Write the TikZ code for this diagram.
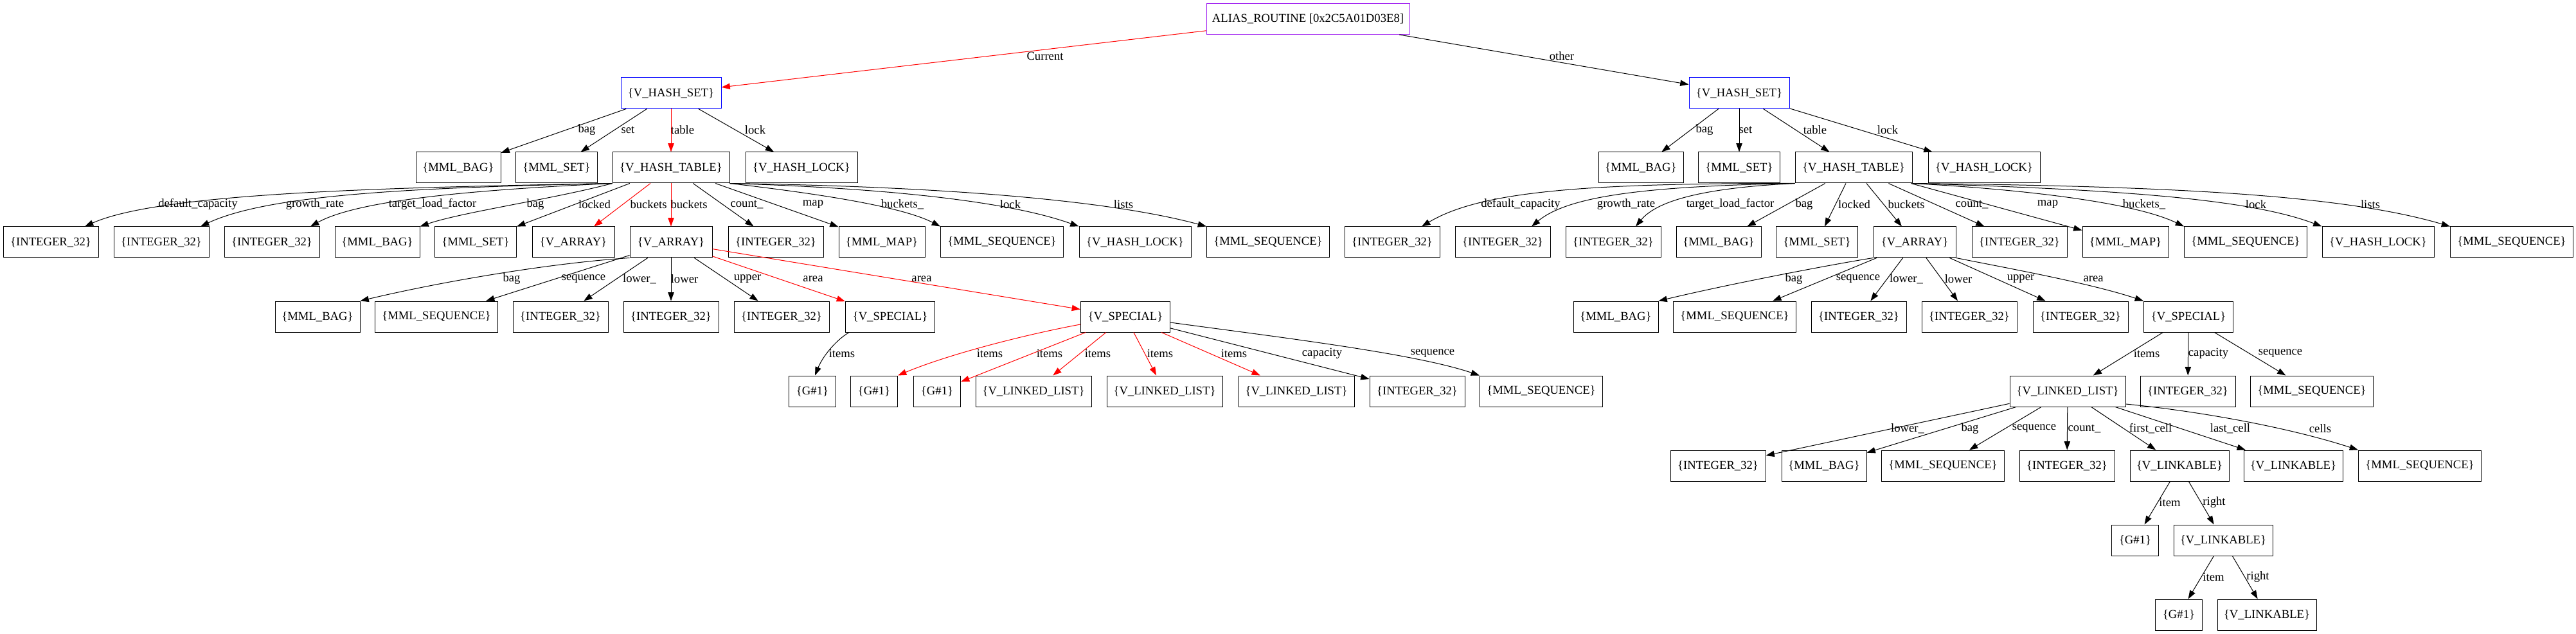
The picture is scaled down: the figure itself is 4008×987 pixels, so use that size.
\documentclass[tikz,border=0pt]{standalone}
\usepackage{fontspec}
\setmainfont{Liberation Serif}
\usetikzlibrary{arrows.meta,calc}
\definecolor{gvpurple}{RGB}{160,32,240}
\newcommand\gvfont{\fontsize{14pt}{16pt}\selectfont}
\newcommand\elab[3]{\node[lab] (#1) at (#2) {#3};}
\tikzset{
  box/.style={draw, line width=0.75pt, minimum height=36pt, inner sep=0pt, font=\gvfont},
  wint/.style={box, minimum width=111pt},
  wbag/.style={box, minimum width=99pt},
  wset/.style={box, minimum width=95.25pt},
  warr/.style={box, minimum width=96pt},
  wht/.style={box, minimum width=136.5pt},
  wlock/.style={box, minimum width=130.5pt},
  wmap/.style={box, minimum width=100.5pt},
  wseq/.style={box, minimum width=143.25pt},
  whs/.style={box, minimum width=117pt, draw=blue},
  wspec/.style={box, minimum width=104.25pt},
  wg/.style={box, minimum width=54.75pt},
  wll/.style={box, minimum width=135pt},
  wlk/.style={box, minimum width=115.5pt},
  edg/.style={line width=0.75pt, -{Triangle[length=10pt,width=7pt]}},
  edgr/.style={edg, red},
  lab/.style={font=\gvfont, inner sep=0pt},
}
\begin{document}
\begin{tikzpicture}[x=0.75pt,y=-0.75pt]
\useasboundingbox (0,0) rectangle (4008,987);
% ---- nodes ----
\node[box, draw=gvpurple, minimum width=237pt] (root) at (2035,29.5) {ALIAS\_ROUTINE [0x2C5A01D03E8]};
\node[whs] (hsA) at (1044,145) {\{V\_HASH\_SET\}};
\node[whs] (hsB) at (2706,145) {\{V\_HASH\_SET\}};
% row 2
\node[wbag] (bagA) at (713,261) {\{MML\_BAG\}};
\node[wset] (setA) at (866,261) {\{MML\_SET\}};
\node[wht] (htA) at (1044,261) {\{V\_HASH\_TABLE\}};
\node[wlock] (lockA) at (1247,261) {\{V\_HASH\_LOCK\}};
\node[wbag] (bagB) at (2553,261) {\{MML\_BAG\}};
\node[wset] (setB) at (2706,261) {\{MML\_SET\}};
\node[wht] (htB) at (2884,261) {\{V\_HASH\_TABLE\}};
\node[wlock] (lockB) at (3087,261) {\{V\_HASH\_LOCK\}};
% row 3
\node[wint] (tA1) at (79,377) {\{INTEGER\_32\}};
\node[wint] (tA2) at (251,377) {\{INTEGER\_32\}};
\node[wint] (tA3) at (423,377) {\{INTEGER\_32\}};
\node[wbag] (tA4) at (587,377) {\{MML\_BAG\}};
\node[wset] (tA5) at (740,377) {\{MML\_SET\}};
\node[warr] (tA6) at (892,377) {\{V\_ARRAY\}};
\node[warr] (tA7) at (1044,377) {\{V\_ARRAY\}};
\node[wint] (tA8) at (1207,377) {\{INTEGER\_32\}};
\node[wmap] (tA9) at (1372,377) {\{MML\_MAP\}};
\node[wseq] (tA10) at (1559,377) {\{MML\_SEQUENCE\}};
\node[wlock] (tA11) at (1766,377) {\{V\_HASH\_LOCK\}};
\node[wseq] (tA12) at (1973,377) {\{MML\_SEQUENCE\}};
\node[wint] (tB1) at (2166,377) {\{INTEGER\_32\}};
\node[wint] (tB2) at (2338,377) {\{INTEGER\_32\}};
\node[wint] (tB3) at (2510,377) {\{INTEGER\_32\}};
\node[wbag] (tB4) at (2674,377) {\{MML\_BAG\}};
\node[wset] (tB5) at (2827,377) {\{MML\_SET\}};
\node[warr] (tB6) at (2979,377) {\{V\_ARRAY\}};
\node[wint] (tB7) at (3142,377) {\{INTEGER\_32\}};
\node[wmap] (tB8) at (3307,377) {\{MML\_MAP\}};
\node[wseq] (tB9) at (3494,377) {\{MML\_SEQUENCE\}};
\node[wlock] (tB10) at (3700,377) {\{V\_HASH\_LOCK\}};
\node[wseq] (tB11) at (3908,377) {\{MML\_SEQUENCE\}};
% row 4
\node[wbag] (uA1) at (494,493) {\{MML\_BAG\}};
\node[wseq] (uA2) at (679,493) {\{MML\_SEQUENCE\}};
\node[wint] (uA3) at (872,493) {\{INTEGER\_32\}};
\node[wint] (uA4) at (1044,493) {\{INTEGER\_32\}};
\node[wint] (uA5) at (1216,493) {\{INTEGER\_32\}};
\node[wspec] (sA1) at (1385,493) {\{V\_SPECIAL\}};
\node[wspec] (sA2) at (1751,493) {\{V\_SPECIAL\}};
\node[wbag] (uB1) at (2514,493) {\{MML\_BAG\}};
\node[wseq] (uB2) at (2699,493) {\{MML\_SEQUENCE\}};
\node[wint] (uB3) at (2892,493) {\{INTEGER\_32\}};
\node[wint] (uB4) at (3064,493) {\{INTEGER\_32\}};
\node[wint] (uB5) at (3237,493) {\{INTEGER\_32\}};
\node[wspec] (sB) at (3405,493) {\{V\_SPECIAL\}};
% row 5
\node[wg] (g1) at (1264,609) {\{G\#1\}};
\node[wg] (g2) at (1360,609) {\{G\#1\}};
\node[wg] (g3) at (1458,609) {\{G\#1\}};
\node[wll] (ll1) at (1608,609) {\{V\_LINKED\_LIST\}};
\node[wll] (ll2) at (1812,609) {\{V\_LINKED\_LIST\}};
\node[wll] (ll3) at (2017,609) {\{V\_LINKED\_LIST\}};
\node[wint] (vA) at (2205,609) {\{INTEGER\_32\}};
\node[wseq] (wA) at (2398,609) {\{MML\_SEQUENCE\}};
\node[wll] (llB) at (3217,609) {\{V\_LINKED\_LIST\}};
\node[wint] (vB) at (3404,609) {\{INTEGER\_32\}};
\node[wseq] (wB) at (3597,609) {\{MML\_SEQUENCE\}};
% row 6
\node[wint] (xB1) at (2673,725) {\{INTEGER\_32\}};
\node[wbag] (xB2) at (2838,725) {\{MML\_BAG\}};
\node[wseq] (xB3) at (3023,725) {\{MML\_SEQUENCE\}};
\node[wint] (xB4) at (3216,725) {\{INTEGER\_32\}};
\node[wlk] (lk1) at (3391,725) {\{V\_LINKABLE\}};
\node[wlk] (lk0) at (3568,725) {\{V\_LINKABLE\}};
\node[wseq] (xB7) at (3765,725) {\{MML\_SEQUENCE\}};
% row 7, 8
\node[wg] (g4) at (3322,841) {\{G\#1\}};
\node[wlk] (lk2) at (3459,841) {\{V\_LINKABLE\}};
\node[wg] (g5) at (3390,957) {\{G\#1\}};
\node[wlk] (lk3) at (3527,957) {\{V\_LINKABLE\}};
% ---- edges ----
\draw[edgr] (root) -- (hsA);
\draw[edg] (root) -- (hsB);
\draw[edg] (hsA) -- (bagA);
\draw[edg] (hsA) -- (setA);
\draw[edgr] (hsA) -- (htA);
\draw[edg] (hsA) -- (lockA);
\draw[edg] (hsB) -- (bagB);
\draw[edg] (hsB) -- (setB);
\draw[edg] (hsB) -- (htB);
\draw[edg] (hsB) -- (lockB);
% htA
\draw[edg] (htA.south west) .. controls (600,292) and (250,300) .. ($(tA1.north)+(53,0)$);
\draw[edg] (htA.south west) .. controls (650,292) and (420,302) .. ($(tA2.north)+(61,0)$);
\draw[edg] (htA.south west) .. controls (750,295) and (560,310) .. ($(tA3.north)+(60,0)$);
\draw[edg] (htA.south west) .. controls (860,310) and (720,330) .. (tA4.north east);
\draw[edg] (htA) -- (tA5);
\draw[edgr] (htA) -- (tA6);
\draw[edgr] (htA) -- (tA7);
\draw[edg] (htA) -- (tA8);
\draw[edg] (htA) -- (tA9);
\draw[edg] (htA.south east) .. controls (1260,300) and (1400,320) .. (tA10.north west);
\draw[edg] (htA.south east) .. controls (1350,292) and (1560,310) .. (tA11.north west);
\draw[edg] (htA.south east) .. controls (1450,290) and (1720,310) .. (tA12.north west);
% htB
\draw[edg] (htB.south west) .. controls (2450,285) and (2300,300) .. ($(tB1.north)+(46,0)$);
\draw[edg] (htB.south west) .. controls (2560,290) and (2440,305) .. ($(tB2.north)+(45,0)$);
\draw[edg] (htB.south west) .. controls (2660,292) and (2580,310) .. ($(tB3.north)+(35,0)$);
\draw[edg] (htB) -- (tB4);
\draw[edg] (htB) -- (tB5);
\draw[edg] (htB) -- (tB6);
\draw[edg] (htB) -- (tB7);
\draw[edg] (htB) -- (tB8);
\draw[edg] (htB.south east) .. controls (3150,295) and (3320,315) .. (tB9.north west);
\draw[edg] (htB.south east) .. controls (3300,295) and (3500,310) .. (tB10.north west);
\draw[edg] (htB.south east) .. controls (3400,290) and (3650,305) .. (tB11.north west);
% V_ARRAY left
\draw[edg] (tA7.south west) .. controls (850,410) and (680,440) .. (uA1.north east);
\draw[edg] (tA7) -- (uA2);
\draw[edg] (tA7) -- (uA3);
\draw[edg] (tA7) -- (uA4);
\draw[edg] (tA7) -- (uA5);
\draw[edgr] (tA7) -- (sA1);
\draw[edgr] (tA7) -- (sA2);
% V_ARRAY right
\draw[edg] (tB6.south west) .. controls (2860,410) and (2700,440) .. (uB1.north east);
\draw[edg] (tB6) -- (uB2);
\draw[edg] (tB6) -- (uB3);
\draw[edg] (tB6) -- (uB4);
\draw[edg] (tB6) -- (uB5);
\draw[edg] (tB6.south east) .. controls (3110,415) and (3250,440) .. (sB.north west);
% V_SPECIAL
\draw[edg] ($(sA1.south west)+(6,0)$) .. controls (1300,530) and (1280,555) .. ($(g1.north)+(4,0)$);
\draw[edgr] ($(sA2.west)+(0,12)$) .. controls (1600,520) and (1480,550) .. (g2.north east);
\draw[edgr] (sA2) -- (g3);
\draw[edgr] (sA2) -- (ll1);
\draw[edgr] (sA2) -- (ll2);
\draw[edgr] (sA2) -- (ll3);
\draw[edg] (sA2) -- (vA);
\draw[edg] ($(sA2.east)+(0,9)$) .. controls (1990,525) and (2200,550) .. (wA.north west);
\draw[edg] (sB) -- (llB);
\draw[edg] (sB) -- (vB);
\draw[edg] (sB) -- (wB);
% linked list
\draw[edg] (llB) -- (xB1);
\draw[edg] (llB) -- (xB2);
\draw[edg] (llB) -- (xB3);
\draw[edg] (llB) -- (xB4);
\draw[edg] (llB) -- (lk1);
\draw[edg] (llB) -- (lk0);
\draw[edg] ($(llB.east)+(0,20)$) .. controls (3420,640) and (3560,665) .. (xB7.north west);
\draw[edg] (lk1) -- (g4);
\draw[edg] (lk1) -- (lk2);
\draw[edg] (lk2) -- (g5);
\draw[edg] (lk2) -- (lk3);
% ---- labels ----
\elab{l1}{1626,87}{Current}
\elab{l2}{2430,87}{other}
\elab{l3}{913,202}{bag}
\elab{l4}{977,202}{set}
\elab{l5}{1062,202}{table}
\elab{l6}{1175,202}{lock}
\elab{l7}{2652,202}{bag}
\elab{l8}{2716,202}{set}
\elab{l9}{2824,202}{table}
\elab{l10}{2937,202}{lock}
\elab{l11}{308,318}{default\_capacity}
\elab{l12}{490,318}{growth\_rate}
\elab{l13}{673,318}{target\_load\_factor}
\elab{l14}{833,318}{bag}
\elab{l15}{925,318}{locked}
\elab{l16}{1009,318}{buckets}
\elab{l17}{1072,318}{buckets}
\elab{l18}{1162,318}{count\_}
\elab{l19}{1265,318}{map}
\elab{l20}{1404,318}{buckets\_}
\elab{l21}{1572,318}{lock}
\elab{l22}{1748,318}{lists}
\elab{l23}{2366,318}{default\_capacity}
\elab{l24}{2530,318}{growth\_rate}
\elab{l25}{2692,318}{target\_load\_factor}
\elab{l26}{2807,318}{bag}
\elab{l27}{2885,318}{locked}
\elab{l28}{2966,318}{buckets}
\elab{l29}{3068,318}{count\_}
\elab{l30}{3186,318}{map}
\elab{l31}{3336,318}{buckets\_}
\elab{l32}{3510,318}{lock}
\elab{l33}{3688,318}{lists}
\elab{l34}{796,434}{bag}
\elab{l35}{908,434}{sequence}
\elab{l36}{995,434}{lower\_}
\elab{l37}{1065,434}{lower}
\elab{l38}{1163,434}{upper}
\elab{l39}{1265,434}{area}
\elab{l40}{1434,434}{area}
\elab{l41}{2791,434}{bag}
\elab{l42}{2891,434}{sequence}
\elab{l43}{2966,434}{lower\_}
\elab{l44}{3047,434}{lower}
\elab{l45}{3144,434}{upper}
\elab{l46}{3257,434}{area}
\elab{l47}{1310,550}{items}
\elab{l48}{1540,550}{items}
\elab{l49}{1633,550}{items}
\elab{l50}{1708,550}{items}
\elab{l51}{1805,550}{items}
\elab{l52}{1920,550}{items}
\elab{l53}{2057,550}{capacity}
\elab{l54}{2229,550}{sequence}
\elab{l55}{3340,550}{items}
\elab{l56}{3436,550}{capacity}
\elab{l57}{3548,550}{sequence}
\elab{l58}{2968,667}{lower\_}
\elab{l59}{3065,667}{bag}
\elab{l60}{3165,667}{sequence}
\elab{l61}{3243,667}{count\_}
\elab{l62}{3346,667}{first\_cell}
\elab{l63}{3470,667}{last\_cell}
\elab{l64}{3610,667}{cells}
\elab{l65}{3376,782}{item}
\elab{l66}{3445,782}{right}
\elab{l67}{3444,898}{item}
\elab{l68}{3513,898}{right}
\end{tikzpicture}
\end{document}
